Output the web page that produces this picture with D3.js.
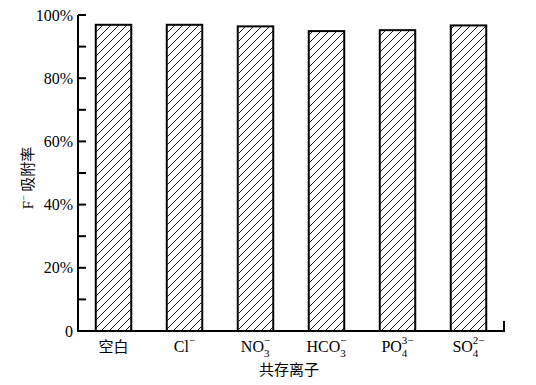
<!DOCTYPE html>
<html>
<head>
<meta charset="utf-8">
<script src="https://cdn.jsdelivr.net/npm/d3@7"></script>
<style>
  body { margin: 0; background: #fff; }
</style>
</head>
<body>
<svg id="chart" width="536" height="385"></svg>
<script>
// categories: base text, subscript, superscript
var ionBase = ["空白", "Cl", "NO", "HCO", "PO", "SO"]
var ionSub = ["", "", "3", "3", "4", "4"]
var ionSup = ["", "−", "−", "−", "3−", "2−"]
var adsorption = [96.9, 96.9, 96.4, 94.9, 95.2, 96.7]
var yTicks = [0, 20, 40, 60, 80, 100]
var yMinor = [10, 30, 50, 70, 90]

var serif = "'Liberation Serif', 'Times New Roman', Times, 'DejaVu Serif', serif"
var cjk = "'Noto Sans CJK SC', sans-serif"

var dimensions = {
    width: 536,
    height: 385,
    margin: { top: 15, bottom: 54, right: 32, left: 78 }
}
dimensions.boundedWidth = dimensions.width - dimensions.margin.left - dimensions.margin.right
dimensions.boundedHeight = dimensions.height - dimensions.margin.top - dimensions.margin.bottom

var svg = d3.select("#chart")

// hatch pattern
var defs = svg.append("defs")
var pat = defs.append("pattern")
    .attr("id", "hatch")
    .attr("patternUnits", "userSpaceOnUse")
    .attr("width", 8)
    .attr("height", 8)
pat.append("rect").attr("width", 8).attr("height", 8).attr("fill", "#fff")
pat.append("path")
    .attr("d", "M-2,2 L2,-2 M0,8 L8,0 M6,10 L10,6")
    .attr("stroke", "#000")
    .attr("stroke-width", 0.9)

var xScale = d3.scaleBand()
    .domain(d3.range(ionBase.length))
    .range([dimensions.margin.left, dimensions.margin.left + dimensions.boundedWidth])
    .paddingInner(0.5)
    .paddingOuter(0.25)

var yScale = d3.scaleLinear()
    .domain([0, 100])
    .range([dimensions.margin.top + dimensions.boundedHeight, dimensions.margin.top])

// bars
svg.selectAll("rect.bar")
    .data(adsorption)
    .enter()
    .append("rect")
    .attr("class", "bar")
    .attr("x", (d, i) => xScale(i))
    .attr("width", xScale.bandwidth())
    .attr("y", d => yScale(d))
    .attr("height", d => yScale(0) - yScale(d))
    .attr("fill", "url(#hatch)")
    .attr("stroke", "#000")
    .attr("stroke-width", 2)

// y axis
var yAxis = svg.append("g")
    .attr("transform", "translate(" + dimensions.margin.left + ",0)")
yAxis.append("line")
    .attr("y1", yScale(0)).attr("y2", yScale(100))
    .attr("stroke", "#000").attr("stroke-width", 2)
yAxis.selectAll("line.tick")
    .data(yTicks.concat(yMinor))
    .enter()
    .append("line")
    .attr("class", "tick")
    .attr("x1", 0).attr("x2", 8)
    .attr("y1", d => yScale(d)).attr("y2", d => yScale(d))
    .attr("stroke", "#000").attr("stroke-width", 2)
yAxis.selectAll("text")
    .data(yTicks)
    .enter()
    .append("text")
    .attr("x", -5)
    .attr("y", d => yScale(d))
    .attr("dy", "0.35em")
    .attr("text-anchor", "end")
    .style("font-family", serif)
    .style("font-size", "16px")
    .text(d => d === 0 ? "0" : d + "%")

// x axis
var x0 = dimensions.margin.left
var x1 = dimensions.margin.left + dimensions.boundedWidth + 1
svg.append("line")
    .attr("x1", x0 - 1).attr("x2", x1)
    .attr("y1", yScale(0)).attr("y2", yScale(0))
    .attr("stroke", "#000").attr("stroke-width", 2)
svg.append("line")
    .attr("x1", x1 - 1).attr("x2", x1 - 1)
    .attr("y1", yScale(0)).attr("y2", yScale(0) - 10)
    .attr("stroke", "#000").attr("stroke-width", 2)

// x labels with sub/superscripts
ionBase.forEach(function (b, i) {
    var cx = xScale(i) + xScale.bandwidth() / 2
    var g = svg.append("g")
    var t = g.append("text")
        .attr("y", 352)
        .style("font-family", i === 0 ? cjk : serif)
        .style("font-size", i === 0 ? "15px" : "16px")
        .text(b)
    var baseW = t.node().getComputedTextLength()
    var extraW = 0
    if (ionSub[i]) {
        g.append("text")
            .attr("x", baseW)
            .attr("y", 357)
            .style("font-family", serif)
            .style("font-size", "11px")
            .text(ionSub[i])
        extraW = 6
    }
    if (ionSup[i]) {
        var s = g.append("text")
            .attr("x", baseW)
            .attr("y", 344)
            .style("font-family", serif)
            .style("font-size", "11px")
            .text(ionSup[i])
        extraW = Math.max(extraW, s.node().getComputedTextLength())
    }
    var totalW = baseW + extraW
    g.attr("transform", "translate(" + (cx - totalW / 2) + ",0)")
})

// axis titles
svg.append("text")
    .attr("x", 289)
    .attr("y", 375)
    .attr("text-anchor", "middle")
    .style("font-size", "15px")
    .style("font-family", cjk)
    .text("共存离子")

var yt = svg.append("text")
    .attr("transform", "translate(33,178) rotate(-90)")
    .attr("text-anchor", "middle")
    .style("font-size", "15px")
yt.append("tspan").style("font-family", serif).text("F")
yt.append("tspan").style("font-family", serif).style("font-size", "10px").attr("dy", -6).text("−")
yt.append("tspan").attr("dy", 6).style("font-family", cjk).text(" 吸附率")
</script>
</body>
</html>
